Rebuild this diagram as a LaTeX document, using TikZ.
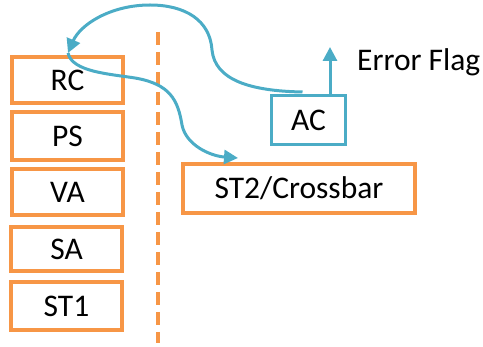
\documentclass[tikz,border=0pt]{standalone}
\usepackage{fontspec}
\setmainfont{Carlito}
\usetikzlibrary{arrows.meta,calc}
\definecolor{boxorange}{HTML}{F79646}
\definecolor{teal}{HTML}{4BACC6}
\begin{document}
\begin{tikzpicture}[x=1pt,y=-1pt,
  txt/.style={font=\fontsize{31.5}{32}\selectfont},
  stage/.style={txt,draw=boxorange,line width=4pt,minimum width=111pt,minimum height=46pt,inner sep=0pt},
  acbox/.style={txt,draw=teal,line width=3pt,minimum width=74pt,minimum height=49pt,inner sep=0pt},
  wide/.style={txt,draw=boxorange,line width=4pt,minimum width=232pt,minimum height=49pt,inner sep=0pt},
  conn/.style={draw=teal,line width=3pt,-{Triangle[length=14pt,width=14pt]}},
  lbl/.style={txt,inner sep=0pt}]
\useasboundingbox (0,0) rectangle (483,347);
\node[stage] (RC) at (67.5,80) {RC};
\node[stage,minimum height=48pt] (PS) at (67.5,136) {PS};
\node[stage] (VA) at (67.5,192) {VA};
\node[stage,minimum height=44pt] (SA) at (66.5,249) {SA};
\node[stage,minimum height=48pt] (ST1) at (66.5,306) {ST1};
\node[acbox] (AC) at (308.5,120) {AC};
\node[wide] (ST2) at (299,188.5) {ST2/Crossbar};
\node[lbl,anchor=west] (EF) at (357,62) {Error Flag};
\coordinate (dtop) at (158,32);
\coordinate (dbot) at (158,343);
\draw[boxorange,line width=4.5pt,dash pattern=on 13pt off 7pt] (dtop) -- (dbot);
\coordinate (RCin) at (68,53);
\coordinate (ST2in) at (238,158);
\coordinate (EFtip) at (330,47);
\draw[conn] ($(AC.north)+(-6,-2)$) .. controls (250,91) and (215,80) .. (212,50)
  .. controls (210,20) and (185,5) .. (150,5)
  .. controls (110,5) and (80,25) .. (RCin);
\draw[conn] (RCin) .. controls (72,72) and (110,74) .. (135,78)
  .. controls (170,84) and (178,100) .. (182,125)
  .. controls (186,145) and (210,156) .. (ST2in);
\draw[conn] ($(AC.north)+(21.5,0)$) -- (EFtip);
\end{tikzpicture}
\end{document}
